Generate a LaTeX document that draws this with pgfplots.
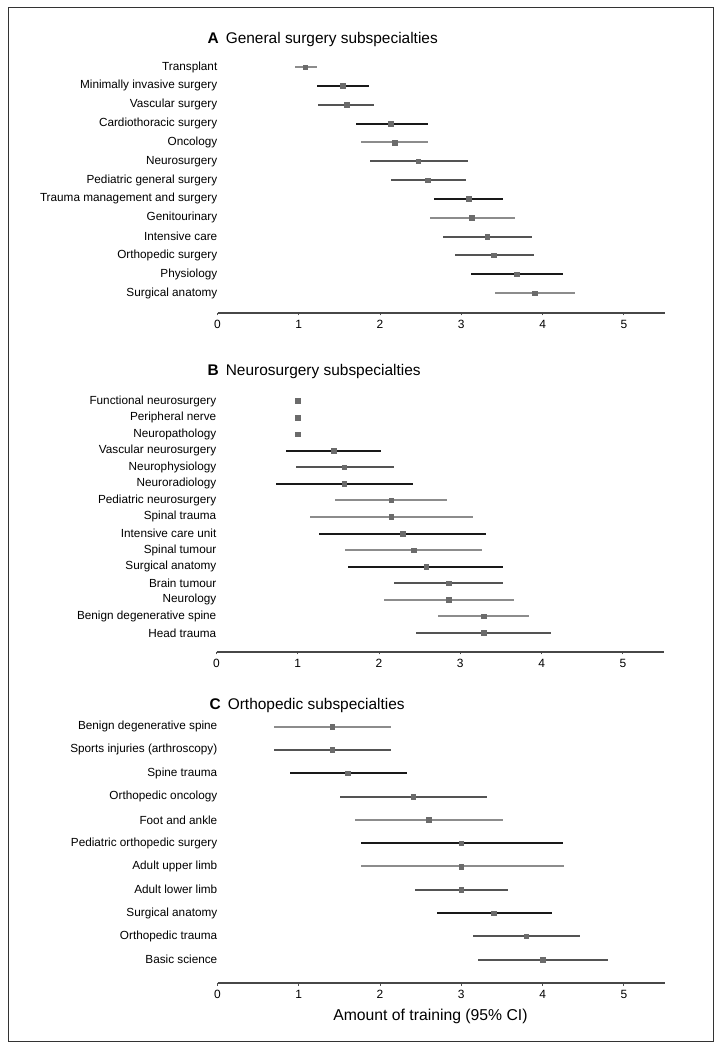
\documentclass[border=0pt]{standalone}
\usepackage{fontspec}
\setmainfont{Liberation Sans}
\usepackage{pgfplots}
\usepackage{pgfplotstable}
\pgfplotsset{compat=1.18}

\definecolor{cA}{gray}{0.10}
\definecolor{cB}{gray}{0.33}
\definecolor{cC}{gray}{0.55}
\definecolor{mk}{gray}{0.42}

% columns: y position (row), estimate, lower and upper 95% CI
% Panel A: general surgery (grouped by bar shade)
\pgfplotstableread{
y x lo hi
12 1.54 1.22 1.86
10 2.13 1.70 2.59
6 3.09 2.67 3.51
2 3.68 3.12 4.25
}\tabAa
\pgfplotstableread{
y x lo hi
11 1.59 1.24 1.93
8 2.47 1.88 3.08
7 2.59 2.13 3.06
4 3.32 2.77 3.87
3 3.40 2.92 3.89
}\tabAb
\pgfplotstableread{
y x lo hi
13 1.08 0.95 1.22
9 2.18 1.77 2.59
5 3.13 2.62 3.66
1 3.90 3.41 4.40
}\tabAc

% Panel B: neurosurgery
\pgfplotstableread{
y x lo hi
12 1.44 0.85 2.03
10 1.57 0.73 2.42
7 2.29 1.26 3.32
5 2.58 1.62 3.52
}\tabBa
\pgfplotstableread{
y x lo hi
15 1.00 1.00 1.00
14 1.00 1.00 1.00
13 1.00 1.00 1.00
11 1.57 0.98 2.18
4 2.86 2.19 3.53
1 3.29 2.46 4.12
}\tabBb
\pgfplotstableread{
y x lo hi
9 2.15 1.46 2.83
8 2.15 1.15 3.15
6 2.43 1.58 3.27
3 2.86 2.06 3.66
2 3.29 2.72 3.85
}\tabBc

% Panel C: orthopedics
\pgfplotstableread{
y x lo hi
9 1.60 0.89 2.33
6 3.00 1.77 4.25
3 3.40 2.70 4.11
}\tabCa
\pgfplotstableread{
y x lo hi
10 1.41 0.70 2.13
8 2.41 1.51 3.31
4 3.00 2.43 3.57
2 3.80 3.14 4.46
1 4.00 3.21 4.80
}\tabCb
\pgfplotstableread{
y x lo hi
11 1.41 0.69 2.13
7 2.60 1.69 3.51
5 3.00 1.77 4.26
}\tabCc

\pgfplotsset{
  panel/.style={
    scale only axis, width=447bp,
    xmin=0, xmax=5.5,
    axis x line*=bottom, axis y line*=left,
    y axis line style={draw=none},
    x axis line style={-, line width=1.5pt, draw=black!72},
    xtick={0,1,2,3,4,5},
    ytick style={draw=none},
    xtick style={draw=black!70, line width=0.8pt},
    major tick length=2.5bp,
    tick align=outside,
    /pgf/number format/assume math mode=true,
    xticklabel style={font=\fontsize{12}{14}\selectfont, yshift=-1bp},
    yticklabel style={font=\fontsize{11.8}{14}\selectfont, anchor=east, inner sep=0pt, xshift=2.5bp},
    clip=false,
  },
  bars/.style={only marks, mark=square*, mark size=2.3bp,
    mark options={fill=mk, draw=mk},
    error bars/.cd, x dir=both, x explicit, error mark=none,
    error bar style={line width=2pt, color=#1}},
}

\newcommand\ciplot[2]{%
  \addplot[bars=#2] table[x=x, y=y,
    x error plus expr=\thisrow{hi}-\thisrow{x},
    x error minus expr=\thisrow{x}-\thisrow{lo}] {#1};}

\begin{document}
\begin{tikzpicture}
\useasboundingbox (0,0) rectangle (721bp,1049bp);
\fill[white] (0,0) rectangle (721bp,1049bp);
\draw[line width=1pt, black!80] (8bp,8bp) rectangle (713bp,1041bp);

% Panel A
\node[anchor=base west, inner sep=0pt, font=\fontsize{15.5}{18}\selectfont] at (207.5bp,1005.7bp)
  {\textbf{A}\hspace{0.45em}General surgery subspecialties};
\begin{axis}[panel, at={(217.5bp,736bp)}, anchor=south west,
  height=255.3bp, ymin=-0.06, ymax=13.5,
  ytick={1,...,13},
  yticklabels={Surgical anatomy, Physiology, Orthopedic surgery, Intensive care,
    Genitourinary, Trauma management and surgery, Pediatric general surgery,
    Neurosurgery, Oncology, Cardiothoracic surgery, Vascular surgery,
    Minimally invasive surgery, Transplant}]
  \ciplot{\tabAa}{cA}
  \ciplot{\tabAb}{cB}
  \ciplot{\tabAc}{cC}
\end{axis}

% Panel B
\node[anchor=base west, inner sep=0pt, font=\fontsize{15.5}{18}\selectfont] at (207.5bp,673.5bp)
  {\textbf{B}\hspace{0.45em}Neurosurgery subspecialties};
\begin{axis}[panel, at={(216.5bp,397bp)}, anchor=south west,
  height=259.3bp, ymin=-0.15, ymax=15.5,
  ytick={1,...,15},
  yticklabels={Head trauma, Benign degenerative spine, Neurology, Brain tumour,
    Surgical anatomy, Spinal tumour, Intensive care unit, Spinal trauma,
    Pediatric neurosurgery, Neuroradiology, Neurophysiology, Vascular neurosurgery,
    Neuropathology, Peripheral nerve, Functional neurosurgery}]
  \ciplot{\tabBa}{cA}
  \ciplot{\tabBb}{cB}
  \ciplot{\tabBc}{cC}
\end{axis}

% Panel C
\node[anchor=base west, inner sep=0pt, font=\fontsize{15.5}{18}\selectfont] at (209.5bp,339.5bp)
  {\textbf{C}\hspace{0.45em}Orthopedic subspecialties};
\begin{axis}[panel, at={(217.5bp,66bp)}, anchor=south west,
  height=268bp, ymin=0, ymax=11.5,
  ytick={1,...,11},
  yticklabels={Basic science, Orthopedic trauma, Surgical anatomy, Adult lower limb,
    Adult upper limb, Pediatric orthopedic surgery, Foot and ankle, Orthopedic oncology,
    Spine trauma, Sports injuries (arthroscopy), Benign degenerative spine},
  xlabel={Amount of training (95\% CI)},
  xlabel style={at={(axis description cs:0.4764,0)}, anchor=center, yshift=-33.7bp,
    font=\fontsize{15.8}{18}\selectfont}]
  \ciplot{\tabCa}{cA}
  \ciplot{\tabCb}{cB}
  \ciplot{\tabCc}{cC}
\end{axis}
\end{tikzpicture}
\end{document}
